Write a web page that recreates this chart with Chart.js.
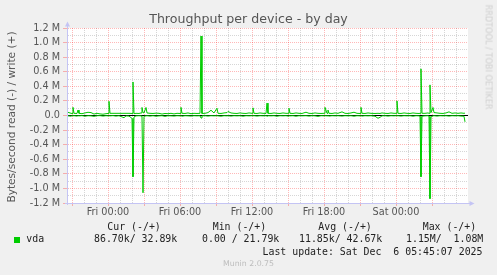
<!DOCTYPE html>
<html><head><meta charset="utf-8">
<script src="https://cdn.jsdelivr.net/npm/chart.js@4/dist/chart.umd.min.js"></script>
<style>
html,body{margin:0;padding:0;background:#f0f0f0;}
#wrap{position:relative;width:497px;height:275px;overflow:hidden;background:#f0f0f0;font-family:"DejaVu Sans",sans-serif;}
canvas{position:absolute;left:0;top:0;}
.t{position:absolute;white-space:pre;line-height:1;}
.mono{font-family:"DejaVu Sans Mono",monospace;font-size:9.9px;color:#222;}
</style></head><body>
<div id="wrap">
<canvas id="c" width="497" height="275"></canvas>
</div>
<script>
// ---- data (hours relative to Fri 00:00; values in kB/s) ----
const hours = [
 -3.333,-3.083,-3.0,-2.917,-2.833,-2.583,-2.5,-2.417,-2.167,-1.917,
 -1.667,-1.417,-1.167,-0.917,-0.667,-0.417,-0.167,0.0,0.083,0.167,
 0.417,0.667,0.917,1.333,1.5,1.75,2.0,2.083,2.167,2.333,
 2.583,2.75,2.833,2.917,3.0,3.167,3.25,3.5,3.75,4.0,
 4.25,4.5,4.75,5.0,5.25,5.5,5.75,6.0,6.083,6.167,
 6.417,6.667,6.917,7.167,7.417,7.667,7.75,7.833,8.083,8.333,
 8.583,8.833,9.083,9.167,9.417,9.667,9.917,10.0,10.25,10.5,
 10.75,11.0,11.25,11.5,11.75,12.0,12.083,12.167,12.417,12.667,
 12.917,13.167,13.25,13.333,13.583,13.833,14.083,14.333,14.583,14.833,
 15.0,15.083,15.167,15.417,15.667,15.917,16.167,16.5,16.75,17.0,
 17.25,17.5,17.75,18.0,18.083,18.25,18.333,18.417,18.667,18.917,
 19.167,19.5,19.75,20.0,20.25,20.5,20.75,21.0,21.083,21.167,
 21.417,21.667,21.917,22.25,22.5,22.667,22.833,23.083,23.333,23.583,
 23.833,24.0,24.083,24.167,24.417,24.667,24.917,25.167,25.417,25.667,
 25.917,26.0,26.083,26.167,26.417,26.667,26.75,26.833,26.917,27.083,
 27.167,27.417,27.667,27.917,28.167,28.417,28.667,28.917,29.167,29.417,
 29.667,29.75
];
const writeK = [
 44,30,28,112,30,28,75,30,25,35,
 44,40,20,30,22,18,25,28,195,30,
 30,30,30,30,30,30,28,460,25,30,
 28,35,110,40,35,110,35,30,28,32,
 30,20,28,25,30,22,30,28,112,30,
 28,35,25,30,28,30,1090,28,30,40,
 72,35,100,30,28,35,40,55,35,30,
 28,35,30,28,35,30,105,30,28,35,
 30,28,170,30,28,35,30,28,35,30,
 30,100,30,28,35,30,28,45,30,28,
 35,30,28,30,112,30,75,30,28,35,
 30,50,30,28,35,45,30,28,112,30,
 28,35,30,28,30,28,35,30,28,35,
 30,30,200,30,28,35,30,28,35,30,
 28,30,640,30,30,35,30,420,40,110,
 40,35,30,28,35,50,30,35,30,35,
 30,33
];
const readK = [
 5,10,3,5,3,8,3,5,2,10,
 3,5,12,3,2,8,3,5,3,5,
 2,8,3,30,5,8,40,840,20,5,
 3,5,10,1060,10,5,3,8,3,10,
 5,3,12,3,5,8,3,5,3,10,
 3,5,8,3,5,3,35,5,3,8,
 3,5,3,5,10,3,5,3,8,3,
 5,3,10,3,5,3,5,3,8,3,
 5,3,8,3,5,3,10,3,5,3,
 8,3,5,3,10,3,5,3,8,3,
 5,12,3,5,3,5,3,8,3,5,
 3,8,3,5,3,10,3,5,3,8,
 3,5,3,10,38,25,5,3,8,3,
 5,3,5,3,8,3,5,3,10,3,
 5,10,840,10,5,3,10,1140,20,5,
 3,8,3,5,3,8,3,5,3,8,
 10,87
];
const xLabelHours = [0, 6, 12, 18, 24];
const xLabelTexts = ['Fri 00:00','Fri 06:00','Fri 12:00','Fri 18:00','Sat 00:00'];
const yLabelValues = [1200,1000,800,600,400,200,0,-200,-400,-600,-800,-1000,-1200];
const yLabelTexts = ['1.2 M','1.0 M','0.8 M','0.6 M','0.4 M','0.2 M','0.0','-0.2 M','-0.4 M','-0.6 M','-0.8 M','-1.0 M','-1.2 M'];
const seriesName = 'vda';
const legendHeaders = ['Cur (-/+)','Min (-/+)','Avg (-/+)','Max (-/+)'];
const legendValues = ['86.70k/ 32.89k','0.00 / 21.79k','11.85k/ 42.67k','1.15M/  1.08M'];
const titleText = 'Throughput per device - by day';
const yAxisTitle = 'Bytes/second read (-) / write (+)';
const lastUpdate = 'Last update: Sat Dec  6 05:45:07 2025';
const footerText = 'Munin 2.0.75';
const sideText = 'RRDTOOL / TOBI OETIKER';

// ---- layout / style ----
const XMIN = -41/12, XMAX = 30;
const GREEN = '#00cc00';
const RED = 'rgba(255,0,0,0.28)';
const GRAY = 'rgba(120,120,120,0.3)';
const AXIS = '#c4c4f4';
const xGrid = []; for (let h = -3; h <= 29; h++) xGrid.push(h);
const yGrid = []; for (let v = -1200; v <= 1200; v += 100) yGrid.push(v);

const wrap = document.getElementById('wrap');
function addText(txt, css, cls) {
  const d = document.createElement('div');
  d.className = 't' + (cls ? ' ' + cls : '');
  d.textContent = txt;
  d.style.cssText += css;
  wrap.appendChild(d);
  return d;
}
addText(titleText, 'left:0;width:497px;text-align:center;top:13px;font-size:12.6px;color:#555;');
addText(yAxisTitle, 'left:-89.5px;top:111px;width:200px;height:12px;line-height:12px;text-align:center;font-size:10.6px;color:#555;transform:rotate(-90deg);transform-origin:50% 50%;');
// side credit: fit its length to ~105px
const side = addText(sideText, 'left:0;top:0;font-size:8.2px;color:#cfcfcf;');
const sw = side.getBoundingClientRect().width;
const fs = 8.2 * 105 / sw;
side.style.fontSize = fs + 'px';
const sw2 = side.getBoundingClientRect().width, sh2 = side.getBoundingClientRect().height;
side.style.left = (488.3 - sw2 / 2) + 'px';
side.style.top = (57.5 - sh2 / 2) + 'px';
side.style.transform = 'rotate(90deg)';
side.style.transformOrigin = '50% 50%';

const headX = [107.3, 212.7, 318.3, 422.7];
const valX = [94, 202, 299, 406];
legendHeaders.forEach((h, i) => addText(h, 'left:' + headX[i] + 'px;top:222.4px;', 'mono'));
legendValues.forEach((v, i) => addText(v, 'left:' + valX[i] + 'px;top:234.3px;', 'mono'));
addText(seriesName, 'left:26.3px;top:234.3px;', 'mono');
const sq = document.createElement('div');
sq.style.cssText = 'position:absolute;left:14px;top:236.5px;width:6px;height:6px;background:' + GREEN + ';';
wrap.appendChild(sq);
addText(lastUpdate, 'right:14.5px;top:246.6px;', 'mono');
addText(footerText, 'left:0;width:497px;text-align:center;top:260.4px;font-size:7.8px;color:#bdbdbd;');

const writePts = hours.map((h, i) => ({x: h, y: writeK[i]}));
const readPts = hours.map((h, i) => ({x: h, y: -readK[i]}));

const bgPlugin = {
  id: 'bg',
  beforeDraw(chart) {
    const {ctx, chartArea: a} = chart;
    ctx.save();
    ctx.fillStyle = '#ffffff';
    ctx.fillRect(a.left, a.top, a.right - a.left, a.bottom - a.top);
    ctx.restore();
  },
  afterDraw(chart) {
    const {ctx, chartArea: a} = chart;
    ctx.save();
    ctx.strokeStyle = AXIS; ctx.fillStyle = AXIS; ctx.lineWidth = 1;
    ctx.beginPath();
    ctx.moveTo(a.left + 0.5, a.bottom + 2); ctx.lineTo(a.left + 0.5, a.top - 2);
    ctx.moveTo(a.left - 2, a.bottom + 0.5); ctx.lineTo(a.right + 2, a.bottom + 0.5);
    ctx.stroke();
    ctx.beginPath();
    ctx.moveTo(a.left + 0.5, a.top - 6.5); ctx.lineTo(a.left - 2, a.top - 1.5); ctx.lineTo(a.left + 3, a.top - 1.5); ctx.closePath();
    ctx.moveTo(a.right + 6.5, a.bottom + 0.5); ctx.lineTo(a.right + 1.5, a.bottom - 2); ctx.lineTo(a.right + 1.5, a.bottom + 3); ctx.closePath();
    ctx.fill();
    ctx.restore();
  }
};

new Chart(document.getElementById('c'), {
  type: 'line',
  data: {datasets: [
    {data: readPts, borderColor: GREEN, borderWidth: 1, pointRadius: 0, tension: 0, fill: false},
    {data: writePts, borderColor: GREEN, borderWidth: 1, pointRadius: 0, tension: 0, fill: false},
    {data: [{x: XMIN, y: 0}, {x: XMAX, y: 0}], borderColor: '#000000', borderWidth: 1, pointRadius: 0, fill: false}
  ]},
  options: {
    responsive: false, animation: false, devicePixelRatio: 1,
    layout: {padding: {left: 0, right: 29, top: 28, bottom: 52}},
    plugins: {legend: {display: false}, tooltip: {enabled: false}, title: {display: false}},
    scales: {
      x: {
        type: 'linear', min: XMIN, max: XMAX,
        afterBuildTicks: s => { s.ticks = xGrid.map(v => ({value: v})); },
        afterFit: s => { s.height = 20; s.paddingLeft = 0; s.paddingRight = 0; },
        ticks: {autoSkip: false, maxRotation: 0, minRotation: 0, padding: 1, color: '#555',
          font: {family: 'DejaVu Sans', size: 9.7},
          callback: v => { const k = xLabelHours.indexOf(v); return k < 0 ? '' : xLabelTexts[k]; }},
        grid: {color: c => (c.tick && c.tick.value % 3 === 0) ? RED : GRAY, lineWidth: 1, tickLength: 3,
          tickColor: c => (c.tick && c.tick.value % 3 === 0) ? RED : 'rgba(0,0,0,0)'},
        border: {display: true, color: AXIS, dash: [1, 1]}
      },
      y: {
        min: -1200, max: 1200,
        afterBuildTicks: s => { s.ticks = yGrid.map(v => ({value: v})); },
        afterFit: s => { s.width = 67; s.paddingTop = 0; s.paddingBottom = 0; },
        ticks: {autoSkip: false, padding: 3, color: '#555',
          font: {family: 'DejaVu Sans', size: 9.7},
          callback: v => { const k = yLabelValues.indexOf(v); return k < 0 ? '' : yLabelTexts[k]; }},
        grid: {color: c => (c.tick && c.tick.value % 200 === 0) ? RED : GRAY, lineWidth: 1, tickLength: 4,
          tickColor: c => (c.tick && c.tick.value % 200 === 0) ? RED : 'rgba(0,0,0,0)'},
        border: {display: true, color: AXIS, dash: [1, 1]}
      }
    }
  },
  plugins: [bgPlugin]
});
</script>
</body></html>
